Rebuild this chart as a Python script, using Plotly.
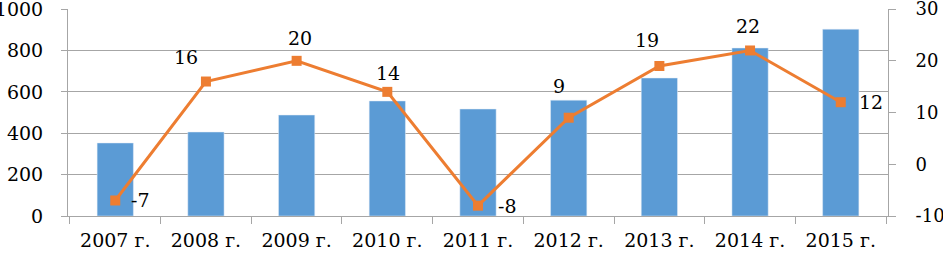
import plotly.graph_objects as go

categories = ["2007 г.", "2008 г.", "2009 г.", "2010 г.", "2011 г.", "2012 г.", "2013 г.", "2014 г.", "2015 г."]
bar_values = [353, 406, 488, 556, 517, 560, 667, 812, 903]
line_values = [-7, 16, 20, 14, -8, 9, 19, 22, 12]
left_ticks = [0, 200, 400, 600, 800, 1000]
right_ticks = [-10, 0, 10, 20, 30]
right_tick_labels = ["-10", "0", "10", "20", "30"]

# label offsets (style only)
label_offsets = [(25, 0), (-20, 25), (3, 23), (1, 19), (29, 0), (-10, 32), (-12, 26), (-2, 24), (30, 0)]

font_family = "'DejaVu Serif', serif"
fs = 19
fig = go.Figure()
fig.add_trace(go.Bar(x=categories, y=bar_values, marker_color="#5B9BD5", yaxis="y", showlegend=False))
fig.add_trace(go.Scatter(x=categories, y=line_values, yaxis="y2", mode="lines+markers",
                         line=dict(color="#ED7D31", width=3),
                         marker=dict(symbol="square", size=10, color="#ED7D31"), showlegend=False))

annotations = []
for c, v, (dx, dy) in zip(categories, line_values, label_offsets):
    annotations.append(dict(x=c, y=v, xref="x", yref="y2", text=str(v), showarrow=False,
                            xshift=dx, yshift=dy, font=dict(family=font_family, size=fs, color="black")))

fig.update_layout(
    width=943, height=255,
    margin=dict(l=68, r=55, t=9, b=39, autoexpand=False),
    paper_bgcolor="white", plot_bgcolor="white",
    bargap=0.6,
    font=dict(family=font_family, size=fs, color="black"),
    annotations=annotations,
    xaxis=dict(showline=True, linecolor="#A6A6A6", linewidth=1, ticks="outside", tickson="boundaries",
               ticklen=7, tickcolor="#A6A6A6", automargin=False, ticklabelstandoff=7,
               ticklabeloverflow="allow", tickfont=dict(size=fs, color="black")),
    yaxis=dict(range=[0, 1000.5], tickvals=left_ticks, showgrid=True, gridcolor="#A6A6A6", gridwidth=1,
               showline=True, linecolor="#A6A6A6", zeroline=False, ticks="outside", ticklen=6,
               tickcolor="#A6A6A6", ticklabelstandoff=14, ticklabeloverflow="allow",
               automargin=False, tickfont=dict(size=fs, color="black")),
    yaxis2=dict(range=[-10, 30.02], tickvals=right_ticks, ticktext=right_tick_labels, overlaying="y",
                side="right", showgrid=False,
                zeroline=False, showline=True, linecolor="#A6A6A6", ticks="outside", ticklen=7,
                tickcolor="#A6A6A6", ticklabelstandoff=16, automargin=False, ticklabeloverflow="allow",
                tickfont=dict(size=18, color="black")),
)
fig.write_html("out.html", config={"displayModeBar": False},
               post_script="document.body.style.margin='0';document.body.style.padding='0';")
